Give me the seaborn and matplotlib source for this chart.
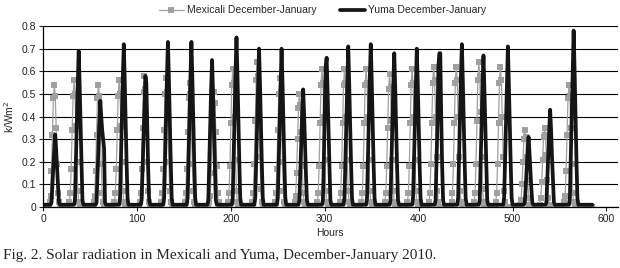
import numpy as np
import pandas as pd
import matplotlib
matplotlib.use("Agg")
import matplotlib.pyplot as plt
import seaborn as sns

# ---------------- data ----------------
n_hours = 586  # hours 0 .. 585

# Yuma: local hour of the daily maximum, and hourly values from (peak-4) onwards
yuma_peak_hour = [13, 14, 13, 14, 13, 13, 14, 12, 14, 14, 14, 13,
                  14, 13, 13, 14, 14, 14, 14, 13, 15, 13, 12, 13]
yuma_day_values = [
    [0.02, 0.10, 0.18, 0.26, 0.32, 0.25, 0.17, 0.09, 0.02],
    [0.03, 0.21, 0.38, 0.55, 0.69, 0.54, 0.36, 0.19, 0.03],
    [0.02, 0.14, 0.26, 0.38, 0.47, 0.40, 0.34, 0.30, 0.26, 0.02],
    [0.04, 0.22, 0.40, 0.58, 0.72, 0.56, 0.37, 0.19, 0.04],
    [0.03, 0.17, 0.32, 0.46, 0.58, 0.55, 0.35, 0.16, 0.03],
    [0.04, 0.22, 0.40, 0.58, 0.73, 0.57, 0.38, 0.20, 0.04],
    [0.04, 0.22, 0.40, 0.58, 0.73, 0.57, 0.38, 0.20, 0.04],
    [0.03, 0.20, 0.36, 0.52, 0.65, 0.51, 0.34, 0.18, 0.03],
    [0.04, 0.23, 0.41, 0.60, 0.75, 0.59, 0.39, 0.20, 0.04],
    [0.04, 0.21, 0.39, 0.56, 0.70, 0.55, 0.36, 0.19, 0.04],
    [0.04, 0.21, 0.39, 0.56, 0.70, 0.55, 0.36, 0.19, 0.04],
    [0.03, 0.16, 0.29, 0.42, 0.52, 0.41, 0.27, 0.14, 0.03],
    [0.03, 0.20, 0.45, 0.62, 0.66, 0.51, 0.34, 0.18, 0.03],
    [0.04, 0.21, 0.39, 0.57, 0.71, 0.55, 0.37, 0.19, 0.04],
    [0.04, 0.22, 0.40, 0.58, 0.72, 0.56, 0.37, 0.19, 0.04],
    [0.03, 0.20, 0.37, 0.54, 0.68, 0.53, 0.35, 0.18, 0.03],
    [0.04, 0.21, 0.39, 0.56, 0.70, 0.55, 0.36, 0.19, 0.04],
    [0.03, 0.20, 0.37, 0.62, 0.68, 0.68, 0.40, 0.18, 0.03],
    [0.04, 0.22, 0.40, 0.58, 0.72, 0.56, 0.37, 0.19, 0.04],
    [0.03, 0.20, 0.37, 0.54, 0.67, 0.52, 0.35, 0.18, 0.03],
    [0.04, 0.21, 0.39, 0.57, 0.71, 0.55, 0.37, 0.19, 0.04],
    [0.02, 0.09, 0.17, 0.25, 0.31, 0.24, 0.16, 0.08, 0.02],
    [0.02, 0.13, 0.24, 0.34, 0.43, 0.34, 0.22, 0.12, 0.02],
    [0.04, 0.23, 0.43, 0.62, 0.78, 0.61, 0.41, 0.21, 0.04],
]
yuma_night = 0.01

# Mexicali: local hour of the daily maximum, hourly values from (peak-5) onwards
mex_peak_hour = [12, 9, 11, 9, 12, 11, 12, 14, 10, 12, 12, 9,
                 9, 9, 8, 9, 9, 8, 8, 8, 7, 9, 6, 8]
mex_day_values = [
    [0.02, 0.05, 0.16, 0.32, 0.48, 0.54, 0.49, 0.35, 0.19, 0.06, 0.02],
    [0.02, 0.06, 0.17, 0.34, 0.49, 0.56, 0.50, 0.36, 0.20, 0.07, 0.02],
    [0.02, 0.05, 0.16, 0.32, 0.48, 0.54, 0.49, 0.35, 0.19, 0.06, 0.02],
    [0.02, 0.06, 0.17, 0.34, 0.49, 0.56, 0.50, 0.36, 0.20, 0.07, 0.02],
    [0.02, 0.06, 0.17, 0.35, 0.51, 0.58, 0.52, 0.38, 0.20, 0.07, 0.02],
    [0.02, 0.06, 0.17, 0.34, 0.50, 0.57, 0.51, 0.37, 0.20, 0.07, 0.02],
    [0.02, 0.06, 0.17, 0.33, 0.48, 0.55, 0.50, 0.36, 0.19, 0.07, 0.02],
    [0.02, 0.05, 0.15, 0.31, 0.45, 0.51, 0.46, 0.33, 0.18, 0.06, 0.02],
    [0.02, 0.06, 0.18, 0.37, 0.54, 0.61, 0.55, 0.40, 0.21, 0.07, 0.02],
    [0.02, 0.06, 0.19, 0.38, 0.56, 0.64, 0.58, 0.42, 0.22, 0.08, 0.02],
    [0.02, 0.06, 0.17, 0.34, 0.50, 0.57, 0.51, 0.37, 0.20, 0.07, 0.02],
    [0.02, 0.05, 0.15, 0.30, 0.44, 0.50, 0.45, 0.33, 0.18, 0.06, 0.02],
    [0.02, 0.06, 0.18, 0.37, 0.54, 0.61, 0.55, 0.40, 0.21, 0.07, 0.02],
    [0.02, 0.06, 0.18, 0.37, 0.54, 0.61, 0.55, 0.40, 0.21, 0.07, 0.02],
    [0.02, 0.06, 0.18, 0.37, 0.54, 0.61, 0.55, 0.40, 0.21, 0.07, 0.02],
    [0.02, 0.06, 0.18, 0.35, 0.52, 0.59, 0.53, 0.38, 0.21, 0.07, 0.02],
    [0.02, 0.06, 0.18, 0.37, 0.54, 0.61, 0.55, 0.40, 0.21, 0.07, 0.02],
    [0.02, 0.06, 0.19, 0.37, 0.55, 0.62, 0.56, 0.40, 0.22, 0.07, 0.02],
    [0.02, 0.06, 0.19, 0.37, 0.55, 0.62, 0.56, 0.40, 0.22, 0.07, 0.02],
    [0.02, 0.06, 0.19, 0.38, 0.56, 0.64, 0.58, 0.42, 0.22, 0.08, 0.02],
    [0.02, 0.06, 0.19, 0.37, 0.55, 0.62, 0.56, 0.40, 0.22, 0.07, 0.02],
    [0.01, 0.03, 0.10, 0.20, 0.30, 0.34, 0.31, 0.22, 0.12, 0.04, 0.01],
    [0.01, 0.04, 0.11, 0.21, 0.31, 0.35, 0.32, 0.23, 0.12, 0.04, 0.01],
    [0.02, 0.05, 0.16, 0.32, 0.48, 0.54, 0.49, 0.35, 0.19, 0.06, 0.02],
]
mex_night = 0.0

labels = ["Mexicali December-January", "Yuma December-January"]
x_ticks = [0, 100, 200, 300, 400, 500, 600]
y_ticks = [0, 0.1, 0.2, 0.3, 0.4, 0.5, 0.6, 0.7, 0.8]
caption = "Fig. 2. Solar radiation in Mexicali and Yuma, December-January 2010."

# ---------------- assemble hourly series ----------------
hours = np.arange(n_hours)
yuma = np.full(n_hours, yuma_night)
for d, (p, vals) in enumerate(zip(yuma_peak_hour, yuma_day_values)):
    s = 24 * d + p - 4
    yuma[s:s + len(vals)] = vals
mex = np.full(n_hours, mex_night)
for d, (q, vals) in enumerate(zip(mex_peak_hour, mex_day_values)):
    s = 24 * d + q - 5
    mex[s:s + len(vals)] = vals

df = pd.DataFrame({"Hours": hours, "Mexicali": mex, "Yuma": yuma})

# ---------------- plot ----------------
sns.set_style("white")
plt.rcParams["font.family"] = ["Liberation Sans", "DejaVu Sans"]

fig = plt.figure(figsize=(6.2, 2.68), dpi=100)
ax = fig.add_axes([0.0694, 0.2276, 0.927, 0.675])

sns.lineplot(data=df, x="Hours", y="Mexicali", ax=ax, color="#a0a0a0",
             linewidth=0.9, marker="s", markersize=4.8, markeredgewidth=0,
             label=labels[0], legend=False)
sns.lineplot(data=df, x="Hours", y="Yuma", ax=ax, color="#151515",
             linewidth=2.7, label=labels[1], legend=False)

ax.set_xlim(0, 612)
ax.set_ylim(0, 0.8)
ax.set_xticks(x_ticks)
ax.set_xticklabels([str(t) for t in x_ticks])
ax.set_yticks(y_ticks)
ax.set_yticklabels(["0"] + [f"{t:.1f}" for t in y_ticks[1:]])
ax.grid(axis="y", color="black", linewidth=0.8)
ax.grid(axis="x", visible=False)
ax.set_axisbelow(True)
for side in ["top", "right"]:
    ax.spines[side].set_visible(False)
for side in ["left", "bottom"]:
    ax.spines[side].set_color("black")
    ax.spines[side].set_linewidth(0.9)
ax.tick_params(axis="both", which="major", labelsize=7.5, colors="#222222",
               length=3, width=0.8, direction="out", pad=2)
ax.tick_params(left=True, bottom=True)
ax.set_xlabel("Hours", fontsize=7.5, labelpad=3)
ax.set_ylabel("k/Wm$^2$", fontsize=7.5, labelpad=4)

handles, lbls = ax.get_legend_handles_labels()
fig.legend(handles, lbls, loc="center", bbox_to_anchor=(0.52, 0.962), ncol=2,
           frameon=False, fontsize=7.5, handlelength=2.4, columnspacing=2.2,
           handletextpad=0.3)

fig.text(0.005, 0.045, caption, fontsize=11,
         family=["Liberation Serif", "DejaVu Serif"], ha="left", va="center")

fig.savefig("out.png", dpi=100)
